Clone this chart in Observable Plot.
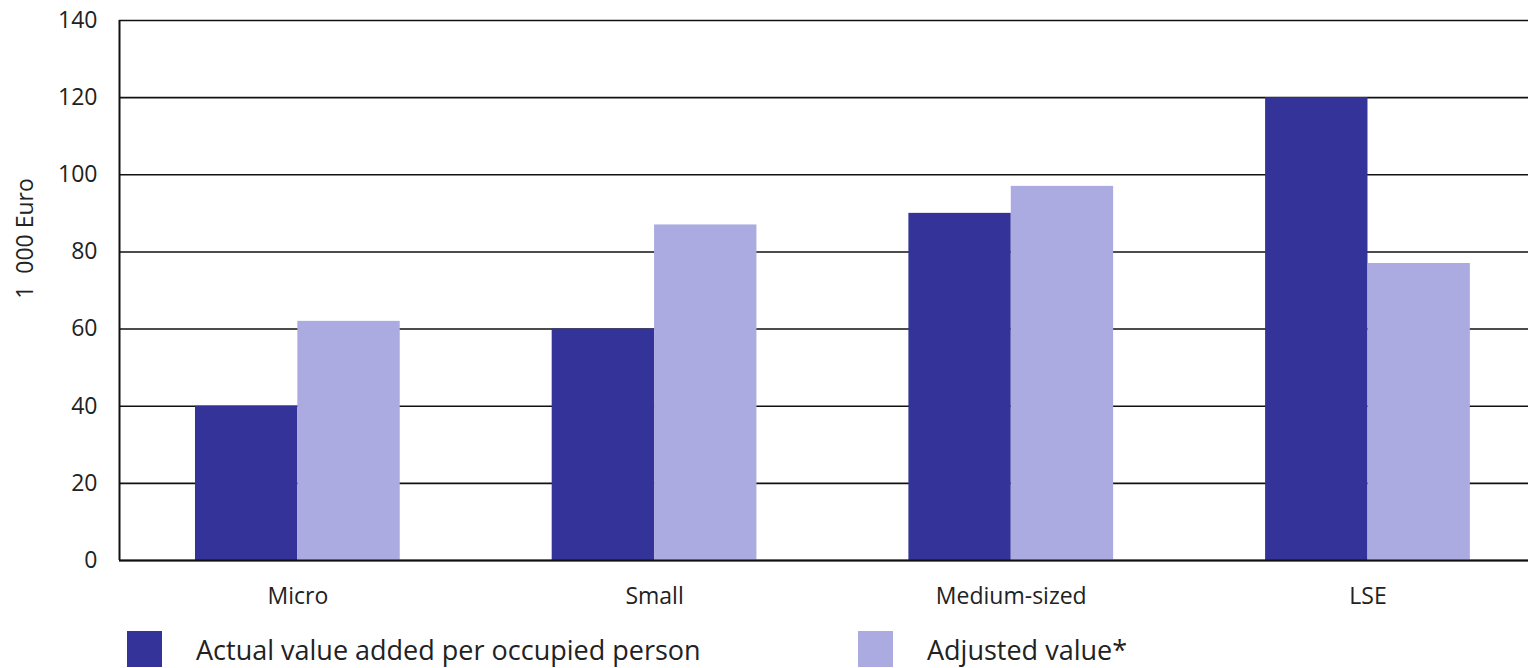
<!DOCTYPE html>
<html>
<head>
<meta charset="utf-8">
<script src="https://cdn.jsdelivr.net/npm/d3@7"></script>
<script src="https://cdn.jsdelivr.net/npm/@observablehq/plot@0.6"></script>
<style>
  body { margin: 0; background: #fff; font-family: "Open Sans", sans-serif; }
  #chart svg { display: block; }
  .legend { display: flex; align-items: center; height: 46px; margin-top: 4px; font-size: 27px; color: #222; }
  .sw { width: 35px; height: 36px; display: inline-block; }
</style>
</head>
<body>
<div id="chart"></div>
<div class="legend" id="legend"></div>
<script>
const categories = ["Micro", "Small", "Medium-sized", "LSE"];
const actualValues = [40, 60, 90, 120];
const adjustedValues = [62, 87, 97, 77];
const yTicks = [0, 20, 40, 60, 80, 100, 120, 140];
const seriesNames = ["Actual value added per occupied person", "Adjusted value*"];
const seriesColors = ["#333399", "#ababe1"];

const halfGroup = 0.287;
const xDomain = [-0.5, 3.45];

const rows = categories.map((c, i) => ({i, c, actual: actualValues[i], adjusted: adjustedValues[i]}));

const plot = Plot.plot({
  width: 1528,
  height: 622,
  marginLeft: 119,
  marginRight: 0,
  marginTop: 20,
  marginBottom: 62,
  style: {fontFamily: "'Open Sans', sans-serif", fontSize: "23px", color: "#222", background: "#fff"},
  x: {type: "linear", domain: xDomain, axis: null},
  y: {domain: [0, 140], axis: null},
  marks: [
    Plot.ruleY(yTicks, {stroke: "#111", strokeWidth: 1.6}),
    Plot.ruleX([xDomain[0]], {stroke: "#111", strokeWidth: 2}),
    Plot.rectY(rows, {x1: d => d.i - halfGroup, x2: d => d.i, y: "actual", fill: seriesColors[0]}),
    Plot.rectY(rows, {x1: d => d.i, x2: d => d.i + halfGroup, y: "adjusted", fill: seriesColors[1]}),
    Plot.ruleY([0], {stroke: "#111", strokeWidth: 2}),
    Plot.axisY({ticks: yTicks, tickSize: 0, tickPadding: 22, label: null, fontSize: 23}),
    Plot.axisX({ticks: categories.map((c, i) => i), tickFormat: i => categories[i], tickSize: 0, tickPadding: 27, label: null, fontSize: 23}),
    Plot.text(["1  000 Euro"], {frameAnchor: "left", textAnchor: "middle", rotate: -90, dx: -94, dy: -52, fontSize: 23, fill: "#222", style: "white-space: pre"})
  ]
});
document.getElementById("chart").appendChild(plot);

const legend = document.getElementById("legend");
const positions = [127, 858];
seriesNames.forEach((name, k) => {
  const item = document.createElement("div");
  item.style.cssText = `position:absolute; left:${positions[k]}px; display:flex; align-items:center;`;
  item.innerHTML = `<span class="sw" style="background:${seriesColors[k]}"></span><span style="margin-left:34px">${name}</span>`;
  legend.appendChild(item);
});
</script>
</body>
</html>
